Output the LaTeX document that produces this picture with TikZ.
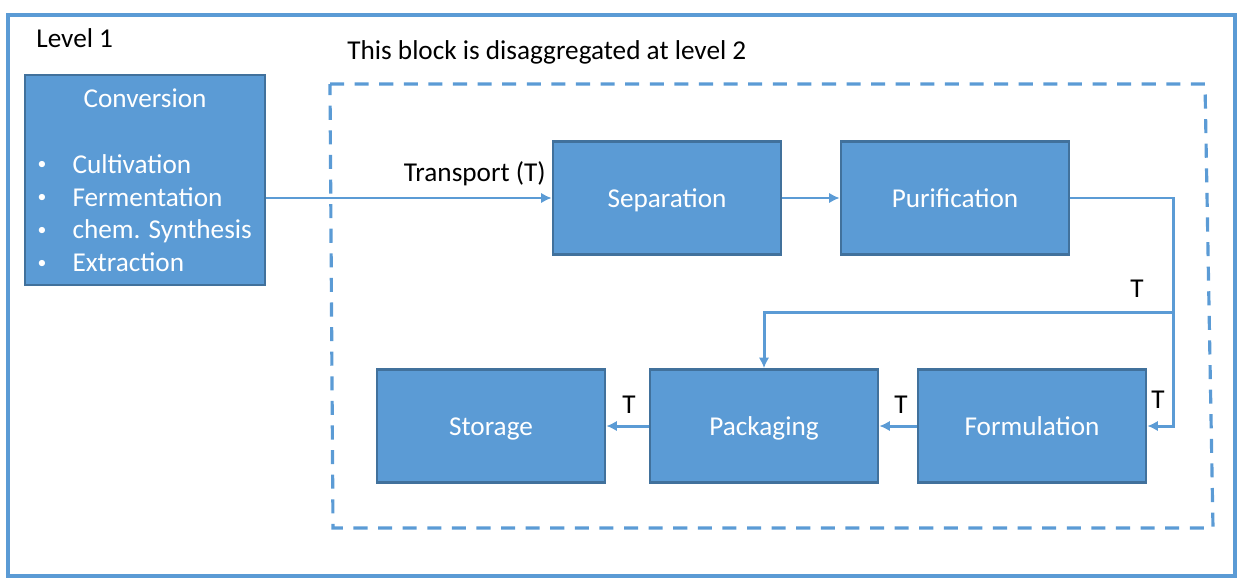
\documentclass[tikz,border=0pt]{standalone}
\usepackage{fontspec}
\setmainfont{Carlito}
\usetikzlibrary{arrows.meta}
\definecolor{boxblue}{HTML}{5B9BD5}
\definecolor{edgeblue}{HTML}{41719C}
\newcommand{\smallbullet}{\raisebox{0.12em}{\scalebox{0.65}{\textbullet}}}

\begin{document}
\begin{tikzpicture}[x=0.02cm, y=-0.02cm, font=\fontsize{15.5}{18.7}\selectfont,
    stage/.style={draw=edgeblue, line width=1.6pt, fill=boxblue, text=white,
      minimum width=4.56cm, minimum height=2.26cm, inner sep=0pt,
      text height=14pt, text depth=3.5pt},
    flow/.style={draw=boxblue, line width=1.7pt, -{Latex[length=6pt, width=6pt]}},
    lbl/.style={inner sep=0pt}]
    \useasboundingbox (0, 0) rectangle (1241, 582);
    % frames
    \draw [boxblue, line width=1.8pt] (8, 15) rectangle (1235, 576);
    \draw [boxblue, line width=1.8pt, dash pattern=on 8pt off 6pt]
        (330, 84) -- (1205, 84) -- (1213, 528) -- (333, 528) -- cycle;
    \node [lbl, anchor=west] (level) at (36, 38) {Level 1};
    \node [lbl, anchor=west] (note) at (347, 52) {This block is disaggregated at level 2};

    % stages
    \node [stage, minimum width=4.8cm, minimum height=4.2cm] (conv) at (145, 180) {};
    \node [lbl, text=white] (convtext) at (145, 183)
        {\begin{tabular}{@{}p{0.7cm}@{}p{3.6cm}@{}}
            \multicolumn{2}{c}{Conversion} \\
            & \\
            \smallbullet & Cultivation \\
            \smallbullet & Fermentation \\
            \smallbullet & chem. Synthesis \\
            \smallbullet & Extraction
        \end{tabular}};
    \node [stage] (sep) at (667, 198) {Separation};
    \node [stage] (pur) at (955, 198) {Purification};
    \node [stage] (sto) at (491, 426) {Storage};
    \node [stage] (pack) at (764, 426) {Packaging};
    \node [stage] (form) at (1032, 426) {Formulation};

    % transport
    \coordinate (turn) at (1173, 312);
    \draw [flow] (sep.west -| conv.east) -- (sep.west);
    \draw [flow] (sep) -- (pur);
    \draw [flow] (pur.east) -| (turn) |- (form.east);
    \draw [flow] (turn) -| (pack.north);
    \draw [flow] (form) -- (pack);
    \draw [flow] (pack) -- (sto);
    \node [lbl, anchor=east] (tr) at (546, 174) {Transport (T)};
    \node [lbl] (t1) at (1137, 289) {T};
    \node [lbl] (t2) at (1158, 400) {T};
    \node [lbl] (t3) at (901, 405) {T};
    \node [lbl] (t4) at (629, 405) {T};
\end{tikzpicture}
\end{document}
